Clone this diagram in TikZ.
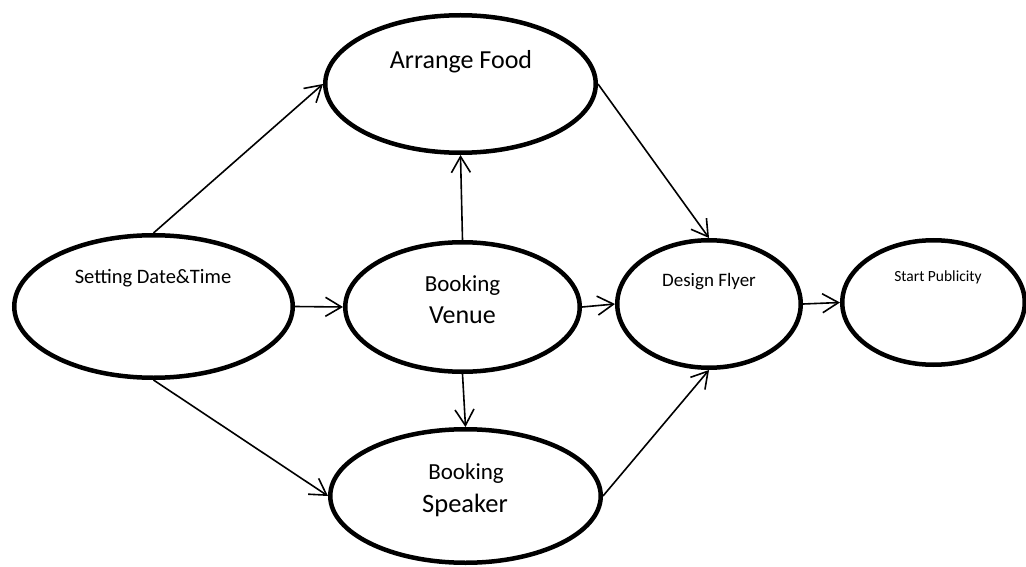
\documentclass[tikz,border=0pt]{standalone}
\usepackage{fontspec}
\setmainfont{Carlito}
\usetikzlibrary{shapes.geometric,arrows.meta}
\begin{document}
\begin{tikzpicture}[x=1pt,y=-1pt,
  task/.style={ellipse,draw,line width=4.5pt,inner sep=0pt},
  lbl/.style={inner sep=0pt,anchor=center},
  flow/.style={line width=1.6pt,-{Straight Barb[length=16pt,width=19pt,line width=1.6pt]}}]
\useasboundingbox (0,0) rectangle (1026,567);
\node[task,minimum width=278.5pt,minimum height=142.5pt] (set) at (153.5,306.5) {};
\node[task,minimum width=270.5pt,minimum height=137.5pt] (food) at (460.5,84) {};
\node[task,minimum width=234.5pt,minimum height=129.5pt] (venue) at (462.5,307) {};
\node[task,minimum width=183.5pt,minimum height=127.5pt] (flyer) at (709,304) {};
\node[task,minimum width=182.5pt,minimum height=124.5pt] (pub) at (933.5,302.5) {};
\node[task,minimum width=270.5pt,minimum height=133.5pt] (speaker) at (465.5,496) {};

\node[lbl,font=\fontsize{20.5}{24}\selectfont] (tset) at (153,278) {Setting Date\&Time};
\node[lbl,font=\fontsize{26}{30}\selectfont] (tfood) at (461,62) {Arrange Food};
\node[lbl,font=\fontsize{23}{27}\selectfont] (tvenue1) at (462.5,285) {Booking};
\node[lbl,font=\fontsize{26}{30}\selectfont] (tvenue2) at (462.5,315) {Venue};
\node[lbl,font=\fontsize{19}{23}\selectfont] (tflyer) at (709,282) {Design Flyer};
\node[lbl,font=\fontsize{15.5}{19}\selectfont] (tpub) at (938,277) {Start Publicity};
\node[lbl,font=\fontsize{23}{27}\selectfont] (tsp1) at (466,473) {Booking};
\node[lbl,font=\fontsize{26.5}{30}\selectfont] (tsp2) at (465,505) {Speaker};

\draw[flow] (set.north) -- (food.west);
\draw[flow] (set.east) -- (venue.west);
\draw[flow] (set.south) -- (speaker.west);
\draw[flow] (venue.north) -- (food.south);
\draw[flow] (venue.south) -- (speaker.north);
\draw[flow] (venue.east) -- (flyer.west);
\draw[flow] (food.east) -- (flyer.north);
\draw[flow] (speaker.east) -- (flyer.south);
\draw[flow] (flyer.east) -- (pub.west);
\end{tikzpicture}
\end{document}
